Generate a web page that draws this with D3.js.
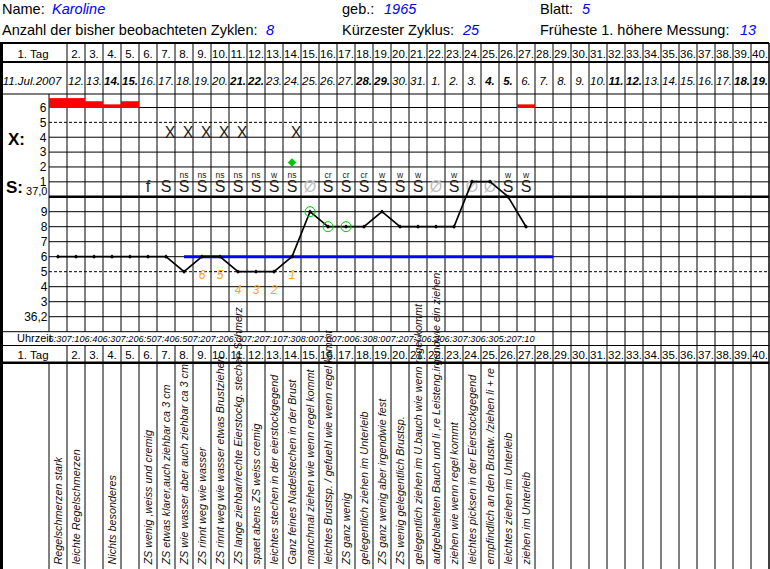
<!DOCTYPE html>
<html><head><meta charset="utf-8">
<script src="https://cdn.jsdelivr.net/npm/d3@7"></script>
<style>
body{margin:0;background:#fff}
svg{display:block}
text{font-family:Arial,"Liberation Sans",sans-serif}
</style>
</head><body>
<svg id="c" width="770" height="569"></svg>
<script>
// ---------------- DATA ----------------
const headerRow1 = [["Name:", "Karoline"], ["geb.:", "1965"], ["Blatt:", "5"]];
const headerRow2 = [["Anzahl der bisher beobachteten Zyklen:", "8"], ["Kürzester Zyklus:", "25"], ["Früheste 1. höhere Messung:", "13"]];

const days = [1,2,3,4,5,6,7,8,9,10,11,12,13,14,15,16,17,18,19,20,21,22,23,24,25,26,27,28,29,30,31,32,33,34,35,36,37,38,39,40];
const dayLabels = ["1. Tag","2.","3.","4.","5.","6.","7.","8.","9.","10.","11.","12.","13.","14.","15.","16.","17.","18.","19.","20.",
  "21.","22.","23.","24.","25.","26.","27.","28.","29.","30.","31.","32.","33.","34.","35.","36.","37.","38.","39.","40."];
const dateLabels = ["11.Jul.2007","12.","13.","14.","15.","16.","17.","18.","19.","20.","21.","22.","23.","24.","25.","26.","27.","28.","29.","30.",
  "31.","1.","2.","3.","4.","5.","6.","7.","8.","9.","10.","11.","12.","13.","14.","15.","16.","17.","18.","19."];
const weekendDays = [4,5,11,12,18,19,25,26,32,33,39,40];

const xTicks = [6,5,4,3,2,1];
const tempTicks = [37.0,36.9,36.8,36.7,36.6,36.5,36.4,36.3,36.2];
const tempTickLabels = ["37,0","9","8","7","6","5","4","3","36,2"];

const temps = [36.6,36.6,36.6,36.6,36.6,36.6,36.6,36.5,36.6,36.6,36.5,36.5,36.5,36.6,36.9,36.8,36.8,36.8,36.9,36.8,36.8,36.8,36.8,37.1,37.1,37.0,36.8];
const times = ["6:30","7:10","6:40","6:30","7:20","6:50","7:40","6:50","7:20","7:20","6:30","7:20","7:10","7:30","8:00","7:00","7:00","6:30","8:00","7:20","7:30","6:30","6:30","7:30","6:30","5:20","7:10"];
const bleeding = [3,3,2,1,2,0,0,0,0,0,0,0,0,0,0,0,0,0,0,0,0,0,0,0,0,0,1];
const mucus    = ["","","","","","f","S","S","S","S","S","S","S","S","Ø","S","S","S","S","S","S","Ø","S","Ø","Ø","S","S"];
const mucusSup = ["","","","","","","","ns","ns","ns","ns","ns","w","ns","","cr","cr","cr","w","w","w","","w","","","w","w"];
const xDays = [7,8,9,10,11,14];
const higherDays = [15,16,17];
const peakDay = 14;
const lowDays = [9,10,11,12,13,14];
const lowLabels = ["6","5","4","3","2","1"];
const coverTemp = 36.6, coverFrom = 8, coverTo = 28;
const notes = [
  "Regelschmerzen stark",
  "leichte Regelschmerzen",
  "",
  "Nichts besonderes",
  "",
  "ZS wenig ,weiss und cremig",
  "ZS etwas klarer,auch ziehbar ca 3 cm",
  "ZS wie wasser aber auch ziehbar ca 3 cm",
  "ZS rinnt weg wie wasser",
  "ZS rinnt weg wie wasser etwas Brustziehen",
  "ZS lange ziehbar/rechte Eierstockg. stechen Schmerz",
  "spaet abens ZS weiss cremig",
  "leichtes stechen in der eierstockgegend",
  "Ganz feines Nadelstechen in der Brust",
  "manchmal ziehen wie wenn regel kommt",
  "leichtes Brustsp. / gefuehl wie wenn regel kommt",
  "ZS ganz wenig",
  "gelegentlich ziehen im Unterleib",
  "ZS ganz wenig aber irgendwie fest",
  "ZS wenig gelegentlich Brustsp.",
  "gelegentlich ziehen im U.bauch wie wenn regel kommt",
  "aufgeblaehten Bauch und li ,re Leisteng.irgendwie ein ziehen",
  "ziehen wie wenn regel kommt",
  "leichtes picksen in der Eierstockgegend",
  "empfindlich an den Brustw. /ziehen li + re",
  "leichtes ziehen im Unterleib",
  "ziehen im Unterleib"
];

// ---------------- LAYOUT ----------------
const svg = d3.select("#c");
const W = 769, LEFT = 49;
const x = d3.scaleBand().domain(days).range([LEFT, W]).paddingInner(0).paddingOuter(0);
const bw = x.bandwidth();
const cx = d => x(d) + bw / 2;
const yX = d3.scaleLinear().domain([0, 6]).range([196.7, 107.5]);
const yT = d3.scaleLinear().domain([36.1, 37.0]).range([331.7, 196.7]);
const yB = d3.scaleLinear().domain([0, 3]).range([0, 9.4]);

const TOP = 43, ROW1 = 62, ROW2 = 94, UHR = yT(36.1), TAG2 = 345.5, NOTE = 362.7, BOT = 569;
const BLUE = "#0000ff", ORANGE = "#ff9f1a", GREEN = "#00c800";

svg.append("rect").attr("width", 770).attr("height", 569).attr("fill", "#fff");
const g = svg.append("g");
const hline = (y, x1, x2, w, dash) => g.append("line").attr("x1", x1).attr("x2", x2).attr("y1", y).attr("y2", y)
  .attr("stroke", "#000").attr("stroke-width", w || 1).attr("stroke-dasharray", dash || null);
const vline = (xx, y1, y2, w) => g.append("line").attr("x1", xx).attr("x2", xx).attr("y1", y1).attr("y2", y2)
  .attr("stroke", "#000").attr("stroke-width", w || 1);

// vertical grid lines
days.forEach(d => {
  const xr = x(d) + bw;
  vline(xr, TOP, ROW2);
  vline(xr, ROW2, UHR);
  if (xr >= x(coverTo) + bw) vline(xr, UHR, TAG2);
  vline(xr, TAG2, BOT);
});
vline(LEFT, ROW2, UHR);
vline(LEFT, NOTE, BOT);

// horizontal lines
xTicks.forEach(v => hline(yX(v), LEFT, W, 1, v === 5 ? "3,2" : null));
tempTicks.forEach(t => hline(yT(t), LEFT, W, t === 37.0 ? 2.6 : 1, Math.abs(t - 36.5) < 1e-6 ? "3,2" : null));
hline(TOP, 0, W, 2);
hline(ROW1, 0, W, 2);
hline(ROW2, 0, W, 1);
hline(UHR, 0, W, 1);
hline(TAG2, 0, W, 1);
hline(NOTE, 0, W, 2.4);
vline(1.5, TOP - 1, BOT, 3);
vline(W, TOP, BOT, 1);

// ---------------- HEADER TEXT ----------------
const hdrX1 = [2, 342, 540], hdrV1 = [52, 384, 582];
const hdrV2 = [266, 463, 740];
headerRow1.forEach((p, i) => {
  svg.append("text").attr("x", hdrX1[i]).attr("y", 14).attr("font-size", 14.5).text(p[0]);
  svg.append("text").attr("x", hdrV1[i]).attr("y", 14).attr("font-size", 14.5).attr("font-style", "italic").attr("fill", BLUE).text(p[1]);
});
headerRow2.forEach((p, i) => {
  svg.append("text").attr("x", hdrX1[i]).attr("y", 34.5).attr("font-size", 14.5).text(p[0]);
  svg.append("text").attr("x", hdrV2[i]).attr("y", 34.5).attr("font-size", 14.5).attr("font-style", "italic").attr("fill", BLUE).text(p[1]);
});

// day number rows (top and bottom)
const tagRow = (yBase) => {
  days.forEach((d, i) => {
    const xc = i === 0 ? 33 : cx(d);
    svg.append("text").attr("x", xc).attr("y", yBase).attr("text-anchor", "middle").attr("font-size", 11.5).text(dayLabels[i]);
  });
};
tagRow(57.5);
tagRow(TAG2 + 13);

// date row
days.forEach((d, i) => {
  const xc = i === 0 ? 32 : cx(d);
  svg.append("text").attr("x", xc).attr("y", 84.5).attr("text-anchor", "middle")
    .attr("font-size", 11.5).attr("font-style", "italic")
    .attr("font-weight", weekendDays.includes(d) ? "bold" : null).text(dateLabels[i]);
});

// ---------------- AXIS LABELS ----------------
svg.append("text").attr("x", 8).attr("y", 145).attr("font-size", 17).attr("font-weight", "bold").text("X:");
svg.append("text").attr("x", 6).attr("y", 193).attr("font-size", 17).attr("font-weight", "bold").text("S:");
xTicks.forEach(v => svg.append("text").attr("x", 46.5).attr("y", yX(v)).attr("dy", "0.36em")
  .attr("text-anchor", "end").attr("font-size", 12).text(v));
tempTicks.forEach((t, i) => svg.append("text").attr("x", 47.5).attr("y", i === 0 ? yT(t) - 5.5 : yT(t)).attr("dy", "0.36em")
  .attr("text-anchor", "end").attr("font-size", i === 0 ? 11 : 12).text(tempTickLabels[i]));

// ---------------- MARKS ----------------
bleeding.forEach((b, i) => {
  if (!b) return;
  const d = days[i];
  svg.append("rect").attr("x", x(d)).attr("width", bw).attr("y", yX(6) - yB(b)).attr("height", yB(b) + 0.5).attr("fill", "#ff0000");
});

xDays.forEach(d => svg.append("text").attr("x", cx(d) + 4).attr("y", yX(4) + 0.3).attr("text-anchor", "middle")
  .attr("font-size", 16).attr("fill", "#222").text("X"));

svg.append("path").attr("transform", `translate(${cx(peakDay)},${yX(2.3)})`)
  .attr("d", d3.symbol(d3.symbolDiamond2, 46)()).attr("fill", GREEN);

mucus.forEach((m, i) => {
  if (!m) return;
  const d = days[i];
  svg.append("text").attr("x", cx(d)).attr("y", 191.6).attr("text-anchor", "middle").attr("font-size", 16)
    .attr("fill", m === "Ø" ? "#c0c0c0" : "#222").text(m);
  if (mucusSup[i]) svg.append("text").attr("x", cx(d)).attr("y", 178.3).attr("text-anchor", "middle")
    .attr("font-size", 8.5).attr("fill", "#222").text(mucusSup[i]);
});

svg.append("line").attr("x1", cx(coverFrom)).attr("x2", x(coverTo) + bw).attr("y1", yT(coverTemp)).attr("y2", yT(coverTemp))
  .attr("stroke", BLUE).attr("stroke-width", 3);

const tdata = temps.map((t, i) => ({day: days[i], t}));
svg.append("path").datum(tdata)
  .attr("d", d3.line().x(p => cx(p.day)).y(p => yT(p.t)))
  .attr("fill", "none").attr("stroke", "#000").attr("stroke-width", 1.7).attr("stroke-linejoin", "round");
svg.selectAll("path.pt").data(tdata).join("path").attr("class", "pt")
  .attr("transform", p => `translate(${cx(p.day)},${yT(p.t)})`)
  .attr("d", d3.symbol(d3.symbolDiamond2, 12)()).attr("fill", "#000");

higherDays.forEach(d => svg.append("circle").attr("cx", cx(d)).attr("cy", yT(temps[d - 1])).attr("r", 5)
  .attr("fill", "none").attr("stroke", GREEN).attr("stroke-width", 1));

lowDays.forEach((d, i) => svg.append("text").attr("x", cx(d)).attr("y", yT(temps[d - 1]) + 18).attr("dy", "0.36em")
  .attr("text-anchor", "middle").attr("font-size", 12).attr("font-style", "italic").attr("fill", ORANGE).text(lowLabels[i]));

svg.append("text").attr("x", 17).attr("y", UHR + 10.5).attr("font-size", 11).text("Uhrzeit");
times.forEach((tm, i) => svg.append("text").attr("x", x(days[i]) + bw - 0.5).attr("y", UHR + 10.5).attr("text-anchor", "end")
  .attr("font-size", 9.2).attr("font-style", "italic").text(tm));

notes.forEach((n, i) => {
  if (!n) return;
  svg.append("text").attr("transform", `translate(${cx(days[i])},564.5) rotate(-90)`).attr("dy", "0.36em")
    .attr("font-size", 10.8).attr("font-style", "italic").attr("fill", "#111").text(n);
});
</script>
</body></html>
